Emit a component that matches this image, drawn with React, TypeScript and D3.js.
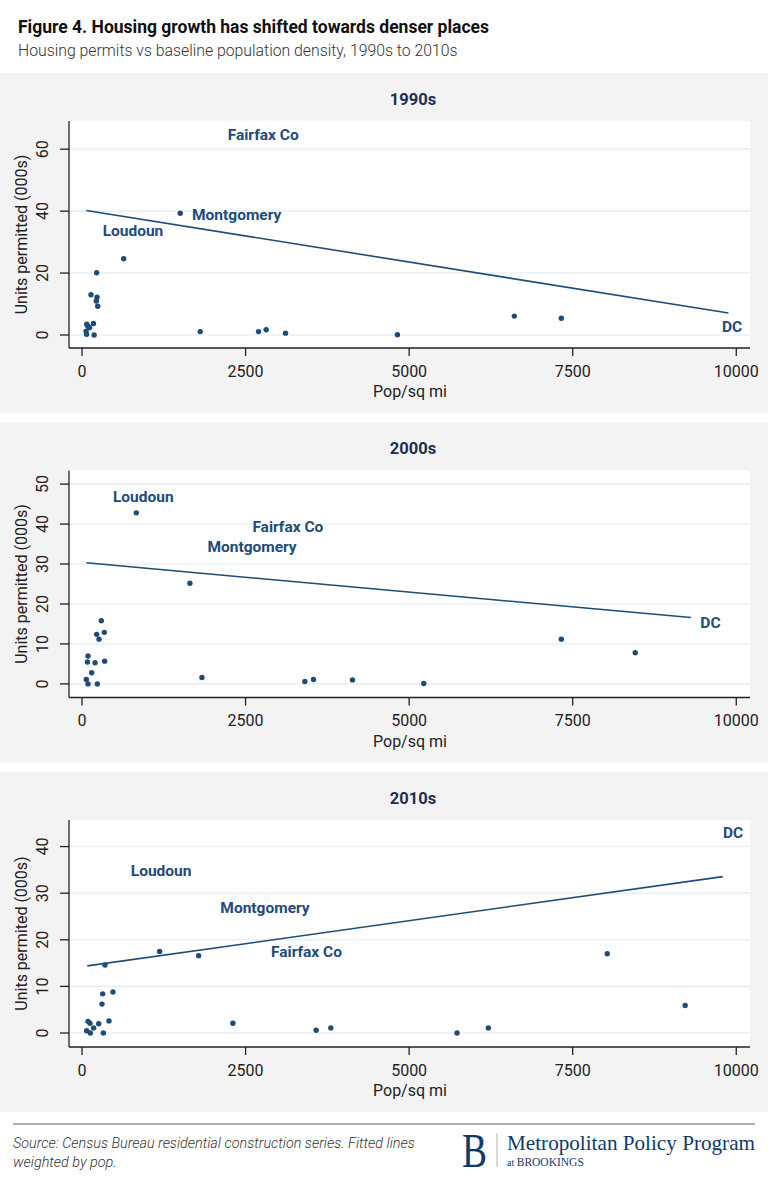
import * as d3 from 'd3';

const W = 768;
const H = 1188;

const decades = ['1990s', '2000s', '2010s'];
const yAxisTitles = ['Units permitted (000s)', 'Units permitted (000s)', 'Units permited (000s)'];

// pop/sq mi at start of decade vs units permitted in the decade (000s)
const density1990s = [72, 87, 175, 115, 62, 70, 185, 137, 229, 219, 240, 224, 637, 1501, 1807, 2698, 2815, 3111, 4821, 6608, 7326];
const permits1990s = [3.5, 2.9, 3.7, 2.4, 1.2, 0.2, 0.0, 13.0, 12.2, 11.0, 9.3, 20.1, 24.6, 39.3, 1.1, 1.1, 1.7, 0.6, 0.1, 6.1, 5.4];

const density2000s = [830, 1649, 295, 341, 224, 260, 92, 82, 199, 346, 148, 66, 92, 234, 1833, 3406, 3538, 4134, 5223, 7326, 8456];
const permits2000s = [42.8, 25.2, 15.8, 12.9, 12.4, 11.2, 7.0, 5.5, 5.3, 5.7, 2.8, 1.1, 0.0, 0.0, 1.6, 0.6, 1.1, 1.0, 0.1, 11.2, 7.8];

const density2010s = [1186, 1782, 351, 473, 316, 305, 412, 92, 122, 255, 178, 71, 127, 326, 2306, 3579, 3803, 5732, 6211, 8028, 9219];
const permits2010s = [17.5, 16.6, 14.6, 8.8, 8.4, 6.2, 2.6, 2.5, 2.1, 2.0, 1.1, 0.5, 0.0, 0.0, 2.1, 0.6, 1.1, 0.0, 1.1, 17.0, 5.9];

// pop-weighted fitted lines (ends of the density range)
const fitDensity = [[66, 9880], [66, 9306], [81, 9794]];
const fitPermits = [[40.2, 7.1], [30.3, 16.6], [14.4, 33.55]];

// named counties
const labelNames = ['Fairfax Co', 'Montgomery', 'Loudoun', 'DC'];
const labelDensity = [
  [2769, 2364, 779, 9937],
  [3146, 2599, 936, 9606],
  [3431, 2797, 1209, 9952],
];
const labelPermits = [
  [64.8, 38.8, 33.7, 2.9],
  [39.3, 34.3, 46.8, 15.3],
  [17.5, 26.9, 34.8, 43.1],
];

const xTicks = [0, 2500, 5000, 7500, 10000];
const xDomain = [-199, 10210];
const yTicks = [[0, 20, 40, 60], [0, 10, 20, 30, 40, 50], [0, 10, 20, 30, 40]];
const yDomains = [[-4.2, 69.1], [-3.4, 53.4], [-3.0, 45.7]];

const densities = [density1990s, density2000s, density2010s];
const permits = [permits1990s, permits2000s, permits2010s];

const NAVY = '#1f4b7a';
const TITLE = '#1d2f52';
const INK = '#222';
const FONT = 'Roboto, "Noto Sans", sans-serif';
const SERIF = '"Liberation Serif", "DejaVu Serif", serif';

const PANEL_TOP = 73;
const PANEL_STEP = 349.5;
const PANEL_H = 340;
const PLOT_L = 69;
const PLOT_R = 750;

function Panel( { index }: { index: number } ) {
  const top = PANEL_TOP + index * PANEL_STEP;
  const plotTop = top + 48;
  const plotBottom = top + 275;

  const x = d3.scaleLinear().domain( xDomain ).range( [ PLOT_L, PLOT_R ] );
  const y = d3.scaleLinear().domain( yDomains[ index ] ).range( [ plotBottom, plotTop ] );

  const fit = d3.line<number>()
    .x( d => x( d ) )
    .y( ( d, i ) => y( fitPermits[ index ][ i ] ) );

  const pts = densities[ index ].map( ( d, i ) => ( { d, p: permits[ index ][ i ] } ) );

  return (
    <g>
      <rect x={ 0 } y={ top } width={ W } height={ PANEL_H } fill="#f3f3f3" />
      <rect x={ PLOT_L } y={ plotTop } width={ PLOT_R - PLOT_L } height={ plotBottom - plotTop } fill="#fff" />

      { yTicks[ index ].map( t => (
        <line key={ t } x1={ PLOT_L } x2={ PLOT_R } y1={ y( t ) } y2={ y( t ) } stroke="#e9f0f4" strokeWidth={ 1.6 } />
      ) ) }

      <path d={ fit( fitDensity[ index ] ) || '' } fill="none" stroke={ NAVY } strokeWidth={ 1.6 } />

      { pts.map( ( pt, i ) => (
        <circle key={ i } cx={ x( pt.d ) } cy={ y( pt.p ) } r={ 2.7 } fill={ NAVY } />
      ) ) }

      { labelNames.map( ( name, i ) => (
        <text key={ name } x={ x( labelDensity[ index ][ i ] ) } y={ y( labelPermits[ index ][ i ] ) } dy="0.36em"
          textAnchor="middle" fontFamily={ FONT } fontWeight={ 700 } fontSize={ 15.5 } fill={ NAVY }>
          { name }
        </text>
      ) ) }

      {/* axes */}
      <line x1={ PLOT_L } x2={ PLOT_L } y1={ plotTop } y2={ plotBottom } stroke={ INK } strokeWidth={ 1.3 } />
      <line x1={ PLOT_L } x2={ PLOT_R } y1={ plotBottom } y2={ plotBottom } stroke={ INK } strokeWidth={ 1.3 } />

      { xTicks.map( t => (
        <g key={ t }>
          <line x1={ x( t ) } x2={ x( t ) } y1={ plotBottom } y2={ plotBottom + 8 } stroke={ INK } strokeWidth={ 1.3 } />
          <text x={ x( t ) } y={ top + 303.5 } textAnchor="middle" fontFamily={ FONT } fontSize={ 16 } fill={ INK }>
            { t }
          </text>
        </g>
      ) ) }

      { yTicks[ index ].map( t => (
        <g key={ t }>
          <line x1={ PLOT_L - 9 } x2={ PLOT_L } y1={ y( t ) } y2={ y( t ) } stroke={ INK } strokeWidth={ 1.3 } />
          <text transform={ `translate(48,${ y( t ) }) rotate(-90)` } textAnchor="middle"
            fontFamily={ FONT } fontSize={ 16 } fill={ INK }>
            { t }
          </text>
        </g>
      ) ) }

      <text x={ 410 } y={ top + 324 } textAnchor="middle" fontFamily={ FONT } fontSize={ 16 } fill={ INK }>
        Pop/sq mi
      </text>
      <text transform={ `translate(27,${ ( plotTop + plotBottom ) / 2 }) rotate(-90)` } textAnchor="middle"
        fontFamily={ FONT } fontSize={ 16 } fill={ INK }>
        { yAxisTitles[ index ] }
      </text>

      <text x={ 413 } y={ top + 31.5 } textAnchor="middle" fontFamily={ FONT } fontWeight={ 700 } fontSize={ 16.5 } fill={ TITLE }>
        { decades[ index ] }
      </text>
    </g>
  );
}

export default function App() {
  return (
    <div style={ { position: 'absolute', left: 0, top: 0, width: W, height: H } }>
      <svg width={ W } height={ H } viewBox={ `0 0 ${ W } ${ H }` } style={ { display: 'block' } }>
        <rect width={ W } height={ H } fill="#fff" />

        <text x={ 18 } y={ 33 } fontFamily={ FONT } fontWeight={ 700 } fontSize={ 17.5 } fill="#111">
          Figure 4. Housing growth has shifted towards denser places
        </text>
        <text x={ 18 } y={ 56 } fontFamily={ FONT } fontWeight={ 300 } fontSize={ 15.8 } fill="#333">
          Housing permits vs baseline population density, 1990s to 2010s
        </text>

        { decades.map( ( d, i ) => <Panel key={ d } index={ i } /> ) }

        {/* footer */}
        <line x1={ 13 } x2={ 755 } y1={ 1124 } y2={ 1124 } stroke="#8f979c" strokeWidth={ 1.3 } />
        <text x={ 13 } y={ 1147.5 } fontFamily={ FONT } fontStyle="italic" fontWeight={ 300 } fontSize={ 14.4 } fill="#333">
          Source: Census Bureau residential construction series. Fitted lines
        </text>
        <text x={ 13 } y={ 1166.5 } fontFamily={ FONT } fontStyle="italic" fontWeight={ 300 } fontSize={ 14.4 } fill="#333">
          weighted by pop.
        </text>

        <text x={ 462 } y={ 1167 } fontFamily={ SERIF } fontSize={ 48 } fill="#0f3a6b"
          textLength={ 25 } lengthAdjust="spacingAndGlyphs">
          B
        </text>
        <line x1={ 497 } x2={ 497 } y1={ 1133 } y2={ 1167 } stroke="#b5b5b5" strokeWidth={ 1 } />
        <text x={ 507 } y={ 1150 } fontFamily={ SERIF } fontSize={ 21 } fill="#0f3a6b"
          textLength={ 248 } lengthAdjust="spacingAndGlyphs">
          Metropolitan Policy Program
        </text>
        <text x={ 507 } y={ 1166 } fontFamily={ SERIF } fontSize={ 11.5 } fill="#0f3a6b">
          <tspan fontSize={ 10 }>at </tspan>BROOKINGS
        </text>
      </svg>
    </div>
  );
}
